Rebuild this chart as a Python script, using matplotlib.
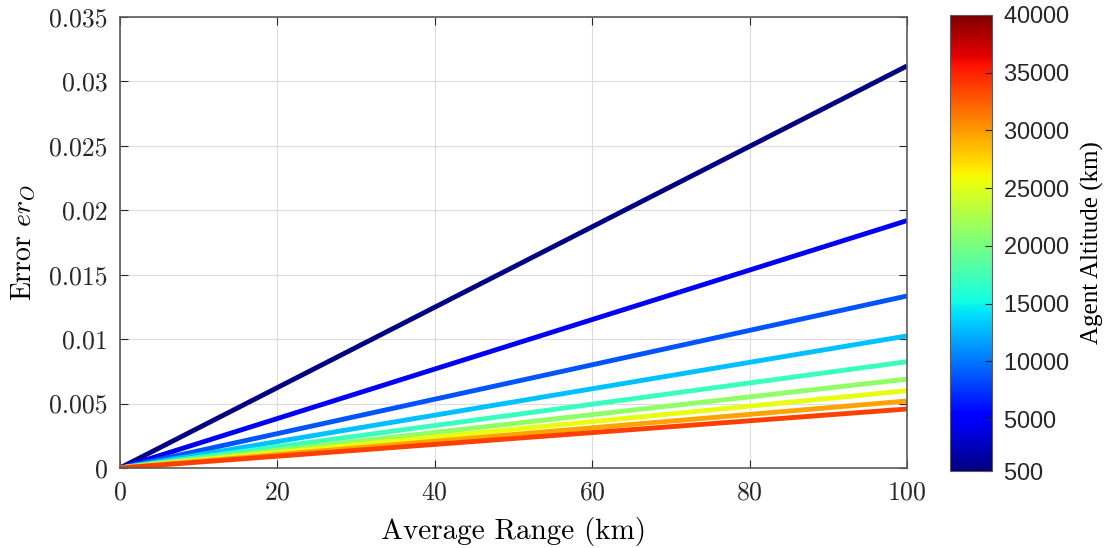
import numpy as np
import matplotlib
matplotlib.use("Agg")
import matplotlib.pyplot as plt
from matplotlib.colors import Normalize
from matplotlib.cm import ScalarMappable

# data
altitudes = [500, 5000, 10000, 15000, 20000, 25000, 30000, 35000, 40000]
end_errors = [0.0312, 0.0192, 0.01335, 0.01025, 0.00825, 0.0069, 0.006, 0.0052, 0.00458]
ranges = [0, 100]
cbar_ticks = [500, 5000, 10000, 15000, 20000, 25000, 30000, 35000, 40000]

plt.rcParams['font.family'] = 'serif'
plt.rcParams['font.serif'] = ['cmr10']
plt.rcParams['mathtext.fontset'] = 'cm'
plt.rcParams['axes.formatter.use_mathtext'] = True
plt.rcParams['text.color'] = '#262626'

fig = plt.figure(figsize=(11.07, 5.48), dpi=100)
ax = fig.add_axes([120 / 1107, 1 - 468 / 548, 787 / 1107, 451 / 548])

# one colour per altitude, sampled from jet
colors = plt.cm.jet(np.linspace(0, 0.84, len(altitudes)))
for alt, err, c in zip(altitudes, end_errors, colors):
    ax.plot(ranges, [0, err], color=c, lw=3.5, solid_capstyle='butt')

ax.set_xlim(0, 100)
ax.set_ylim(0, 0.035)
ax.set_xticks([0, 20, 40, 60, 80, 100])
ax.set_yticks([0, 0.005, 0.01, 0.015, 0.02, 0.025, 0.03, 0.035])
ax.set_yticklabels(['0', '0.005', '0.01', '0.015', '0.02', '0.025', '0.03', '0.035'])
ax.grid(True, color='#dcdcdc', lw=0.8)
ax.set_axisbelow(True)
ax.tick_params(direction='in', top=True, right=True, labelsize=18.5, length=6,
               color='#262626', labelcolor='#262626', pad=9)
for s in ax.spines.values():
    s.set_color('#5a5a5a')
    s.set_linewidth(1.2)
ax.set_xlabel('Average Range (km)', fontsize=21, labelpad=9)
ax.set_ylabel(r'Error $er_O$', fontsize=20, labelpad=8)

# colorbar: 500 .. 40000, runs from y=15 to y=471
cax = fig.add_axes([950 / 1107, 1 - 471 / 548, 42 / 1107, 456 / 548])
sm = ScalarMappable(norm=Normalize(500, 40000), cmap='jet')
cb = fig.colorbar(sm, cax=cax, ticks=cbar_ticks)
cb.ax.tick_params(direction='in', length=5, labelsize=17, pad=8,
                  color='#262626', labelcolor='#262626')
for t in cb.ax.get_yticklabels():
    t.set_fontfamily('Liberation Sans')
cb.outline.set_edgecolor('#5a5a5a')
cb.set_label('Agent Altitude (km)', fontsize=18, labelpad=8,
             fontfamily='Liberation Serif')

fig.savefig('out.png', dpi=100)
